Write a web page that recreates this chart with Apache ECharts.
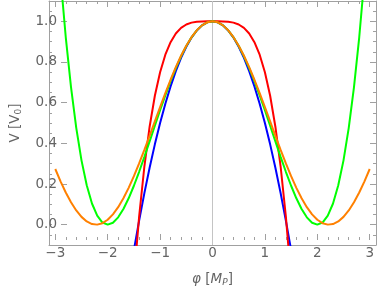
<!DOCTYPE html>
<html>
<head>
<meta charset="utf-8">
<script src="https://cdn.jsdelivr.net/npm/echarts@6/dist/echarts.min.js"></script>
<style>html,body{margin:0;padding:0;background:#fff}#c{width:378px;height:292px}</style>
</head>
<body>
<div id="c"></div>
<script>
// phi values (M_P)
const xs = [-3.0,-2.9,-2.8,-2.7,-2.6,-2.5,-2.4,-2.3,-2.2,-2.1,-2.0,-1.9,-1.8,-1.7,-1.6,-1.5,-1.4,-1.3,-1.2,-1.1,-1.0,-0.9,-0.8,-0.7,-0.6,-0.5,-0.4,-0.3,-0.2,-0.1,0,0.1,0.2,0.3,0.4,0.5,0.6,0.7,0.8,0.9,1.0,1.1,1.2,1.3,1.4,1.5,1.6,1.7,1.8,1.9,2.0,2.1,2.2,2.3,2.4,2.5,2.6,2.7,2.8,2.9,3.0];
const blueV = [null,null,null,null,null,null,null,null,null,null,null,null,null,null,null,-0.125,0.02,0.155,0.28,0.395,0.5,0.595,0.68,0.755,0.82,0.875,0.92,0.955,0.98,0.995,1,0.995,0.98,0.955,0.92,0.875,0.82,0.755,0.68,0.595,0.5,0.395,0.28,0.155,0.02,-0.125,null,null,null,null,null,null,null,null,null,null,null,null,null,null,null];
const redV = [null,null,null,null,null,null,null,null,null,null,null,null,null,null,null,-0.2656,0.0396,0.286,0.4816,0.634,0.75,0.836,0.8976,0.94,0.9676,0.9844,0.9936,0.998,0.9996,1.0,1,1.0,0.9996,0.998,0.9936,0.9844,0.9676,0.94,0.8976,0.836,0.75,0.634,0.4816,0.286,0.0396,-0.2656,null,null,null,null,null,null,null,null,null,null,null,null,null,null,null];
const greenV = [1.5625,1.2155,0.9216,0.6765,0.4761,0.3164,0.1936,0.104,0.0441,0.0105,0,0.0095,0.0361,0.077,0.1296,0.1914,0.2601,0.3335,0.4096,0.4865,0.5625,0.636,0.7056,0.77,0.8281,0.8789,0.9216,0.9555,0.9801,0.995,1,0.995,0.9801,0.9555,0.9216,0.8789,0.8281,0.77,0.7056,0.636,0.5625,0.4865,0.4096,0.3335,0.2601,0.1914,0.1296,0.077,0.0361,0.0095,0,0.0105,0.0441,0.104,0.1936,0.3164,0.4761,0.6765,0.9216,1.2155,1.5625];
const orangeV = [0.2737,0.2131,0.1582,0.1102,0.0700,0.0383,0.0159,0.0031,0.0002,0.0074,0.0243,0.0508,0.0862,0.1299,0.1810,0.2385,0.3011,0.3678,0.4371,0.5077,0.5780,0.6467,0.7127,0.7744,0.8306,0.8801,0.9221,0.9557,0.9801,0.9950,1,0.9950,0.9801,0.9557,0.9221,0.8801,0.8306,0.7744,0.7127,0.6467,0.5780,0.5077,0.4371,0.3678,0.3011,0.2385,0.1810,0.1299,0.0862,0.0508,0.0243,0.0074,0.0002,0.0031,0.0159,0.0383,0.0700,0.1102,0.1582,0.2131,0.2737];
const xTicks = [-3,-2,-1,0,1,2,3];
const yTicks = [0.0,0.2,0.4,0.6,0.8,1.0];

const FRAME = '#a0a0a0';
const TXT = '#646464';
const FONT = 'DejaVu Sans';
const FS = 13.5;
function pairs(arr){ const out=[]; xs.forEach((x,i)=>{ if(arr[i]!==null) out.push([x,arr[i]]); }); return out; }
function line(name,color,arr){ return {name,type:'line',xAxisIndex:0,yAxisIndex:0,data:pairs(arr),showSymbol:false,symbol:'none',lineStyle:{color,width:2},itemStyle:{color},z:3,clip:true,animation:false}; }

const chart = echarts.init(document.getElementById('c'), null, {renderer:'canvas'});
const hidden = {show:false};
const frameLine = {show:true,onZero:false,lineStyle:{color:FRAME,width:1}};
const noLine = {show:false,onZero:false};
chart.setOption({
  animation:false,
  backgroundColor:'#fff',
  grid:[
    {left:49,right:2,top:1,bottom:47},
    {left:55.29,right:8.29,top:1,bottom:47},
    {left:49,right:2,top:21.33,bottom:67.33}
  ],
  xAxis:[
    {gridIndex:0,type:'value',min:-3.12,max:3.12,position:'bottom',axisLine:frameLine,axisTick:hidden,axisLabel:hidden,splitLine:hidden},
    {gridIndex:0,type:'value',min:-3.12,max:3.12,position:'top',axisLine:frameLine,axisTick:hidden,axisLabel:hidden,splitLine:hidden},
    {gridIndex:1,type:'value',min:xTicks[0],max:xTicks[xTicks.length-1],interval:1,position:'bottom',
      axisLine:noLine,splitLine:hidden,
      axisTick:{show:true,inside:true,length:6,lineStyle:{color:FRAME}},
      minorTick:{show:true,splitNumber:5,length:3,lineStyle:{color:FRAME}},
      axisLabel:{show:true,margin:6,color:TXT,fontFamily:FONT,fontSize:FS,formatter:v=>v<0?'\u2212'+Math.abs(v):String(v)},
      name:'{i|\u03c6} [{i|M}{s|P}]',nameLocation:'middle',nameGap:31,
      nameTextStyle:{color:TXT,fontFamily:FONT,fontSize:FS,rich:{i:{fontStyle:'italic',fontFamily:FONT,fontSize:FS,color:TXT},s:{fontStyle:'italic',fontFamily:FONT,fontSize:9,color:TXT,verticalAlign:'bottom',padding:[7,0,0,0]}}}
    },
    {gridIndex:1,type:'value',min:xTicks[0],max:xTicks[xTicks.length-1],interval:1,position:'top',
      axisLine:noLine,splitLine:hidden,axisLabel:hidden,
      axisTick:{show:true,inside:true,length:6,lineStyle:{color:FRAME}},
      minorTick:{show:true,splitNumber:5,length:3,lineStyle:{color:FRAME}}
    },
    {gridIndex:2,type:'value',min:-1,max:1,show:false,axisLine:noLine}
  ],
  yAxis:[
    {gridIndex:0,type:'value',min:-0.1,max:1.1,interval:0.05,position:'left',axisLine:frameLine,axisTick:{show:true,inside:true,length:3,lineStyle:{color:FRAME}},axisLabel:hidden,splitLine:hidden},
    {gridIndex:0,type:'value',min:-0.1,max:1.1,interval:0.05,position:'right',axisLine:frameLine,axisTick:{show:true,inside:true,length:3,lineStyle:{color:FRAME}},axisLabel:hidden,splitLine:hidden},
    {gridIndex:1,type:'value',min:0,max:1,show:false,axisLine:noLine},
    {gridIndex:2,type:'value',min:yTicks[0],max:yTicks[yTicks.length-1],interval:0.2,position:'left',
      axisLine:noLine,splitLine:hidden,
      axisTick:{show:true,inside:true,length:6,lineStyle:{color:FRAME}},
      axisLabel:{show:true,margin:4,color:TXT,fontFamily:FONT,fontSize:FS,formatter:v=>v.toFixed(1)},
      name:'V [V{s|0}]',nameLocation:'middle',nameGap:38,
      nameTextStyle:{color:TXT,fontFamily:FONT,fontSize:FS,rich:{s:{fontFamily:FONT,fontSize:9,color:TXT,verticalAlign:'bottom',padding:[7,0,0,0]}}}
    },
    {gridIndex:2,type:'value',min:yTicks[0],max:yTicks[yTicks.length-1],interval:0.2,position:'right',
      axisLine:noLine,splitLine:hidden,axisLabel:hidden,
      axisTick:{show:true,inside:true,length:6,lineStyle:{color:FRAME}}
    }
  ],
  series:[
    {type:'line',xAxisIndex:0,yAxisIndex:0,data:[[0,-0.1],[0,1.1]],symbol:'none',lineStyle:{color:'#c4c4c4',width:1},z:1,silent:true,animation:false},
    line('blue','#0000ff',blueV),
    line('red','#ff0000',redV),
    line('green','#00ff00',greenV),
    line('orange','#ff8000',orangeV)
  ]
});
</script>
</body>
</html>
